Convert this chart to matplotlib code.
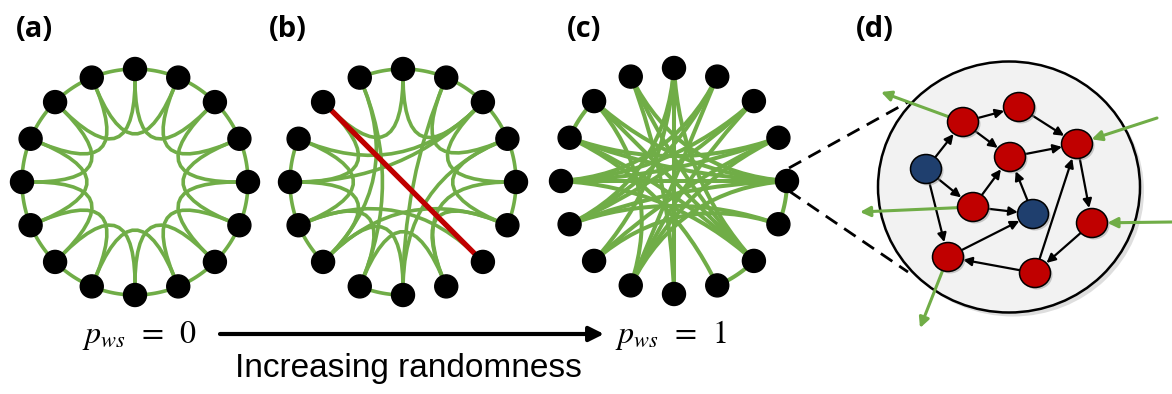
import numpy as np
import matplotlib
matplotlib.use("Agg")
import matplotlib.pyplot as plt
from matplotlib.path import Path
from matplotlib.patches import PathPatch, Circle, Ellipse, FancyArrowPatch

plt.rcParams['mathtext.fontset'] = 'stix'

# ---- data ----
n_nodes = 16
# nodes numbered clockwise from the top node (0)
# (a) ring lattice, k = 4
ring_a = [(0, 1), (1, 2), (2, 3), (3, 4), (4, 5), (5, 6), (6, 7), (7, 8),
          (8, 9), (9, 10), (10, 11), (11, 12), (12, 13), (13, 14), (14, 15), (15, 0)]
chords_a = [(0, 2), (1, 3), (2, 4), (3, 5), (4, 6), (5, 7), (6, 8), (7, 9),
            (8, 10), (9, 11), (10, 12), (11, 13), (12, 14), (13, 15), (14, 0), (15, 1)]
# (b) a few edges rewired
ring_b = [(15, 0), (0, 1), (1, 2), (2, 3), (3, 4), (4, 5), (8, 9), (10, 11), (11, 12), (12, 13)]
chords_b = [(0, 2), (0, 14), (1, 3), (2, 4), (3, 5), (5, 7), (7, 9), (8, 10), (9, 11),
            (10, 12), (11, 13), (12, 14), (15, 9), (1, 8), (2, 13), (2, 12), (11, 6),
            (3, 8), (4, 7), (15, 10), (5, 10)]
rewired_b = [(14, 6)]
# (c) fully random
ring_c = [(13, 14), (4, 5), (6, 7)]
chords_c = [(0, 8), (0, 10), (0, 6), (0, 11), (15, 8), (15, 6), (15, 4), (1, 9), (1, 11),
            (1, 12), (14, 6), (14, 4), (14, 9), (2, 11), (2, 12), (2, 9), (3, 13), (3, 12),
            (3, 10), (3, 9), (4, 12), (4, 11), (4, 13), (4, 9), (13, 6), (13, 7), (11, 5),
            (12, 6), (10, 5)]

# (d) zoomed-in node: internal neurons
d_names = ['n1', 'n2', 'n3', 'n4', 'n5', 'n6', 'n7', 'n8', 'n9', 'n10']
d_kind = ['exc', 'exc', 'exc', 'exc', 'inh', 'exc', 'inh', 'exc', 'exc', 'exc']
d_links = [('n1', 'n2'), ('n2', 'n3'), ('n1', 'n4'), ('n4', 'n3'), ('n5', 'n1'),
           ('n5', 'n6'), ('n5', 'n9'), ('n6', 'n4'), ('n6', 'n7'), ('n7', 'n4'),
           ('n3', 'n8'), ('n8', 'n10'), ('n10', 'n3'), ('n10', 'n9'), ('n9', 'n7')]
d_out = ['n1', 'n6', 'n9']   # green arrows leaving the node
d_in = ['n3', 'n8']          # green arrows entering the node

labels = ['(a)', '(b)', '(c)', '(d)']

# ---- layout / style ----
GREEN = '#70AD47'
RED = '#C00000'
ERED = '#C00000'
BLUE = '#1F3F6E'
R = 113
centers = [(135, 182), (403, 182), (674, 181)]
bend = [-0.08, -0.05, 0.15]   # where the control point sits (0 = ring centre)
node_r = 11.5
lw_green = [2.6, 2.6, 2.9]

d_xy = {'n1': (963, 122), 'n2': (1019, 107), 'n3': (1077, 144), 'n4': (1010, 157),
        'n5': (926, 169), 'n6': (973, 207), 'n7': (1033, 214), 'n8': (1092, 223),
        'n9': (948, 257), 'n10': (1035, 273)}
d_out_end = {'n1': (881, 92), 'n6': (860, 212), 'n9': (920, 328)}
d_in_start = {'n3': (1157, 118), 'n8': (1172, 222)}

fig = plt.figure(figsize=(11.72, 3.94), dpi=100)
ax = fig.add_axes([0, 0, 1, 1])
ax.set_xlim(0, 1172)
ax.set_ylim(394, 0)
ax.axis('off')


def node_pos(c, k):
    a = 2 * np.pi * k / n_nodes
    return np.array([c[0] + R * np.sin(a), c[1] - R * np.cos(a)])


def draw_arc(c, i, j, lw, color=GREEN):
    if j < i:
        j += n_nodes
    t = np.linspace(i, j, 30) * 2 * np.pi / n_nodes
    ax.plot(c[0] + R * np.sin(t), c[1] - R * np.cos(t), color=color, lw=lw,
            solid_capstyle='round', zorder=2)


def draw_curve(c, i, j, f, lw, color=GREEN):
    p0, p2 = node_pos(c, i), node_pos(c, j)
    cc = np.array(c, dtype=float)
    ctrl = cc + f * ((p0 + p2) / 2 - cc)
    path = Path([p0, ctrl, p2], [Path.MOVETO, Path.CURVE3, Path.CURVE3])
    ax.add_patch(PathPatch(path, fc='none', ec=color, lw=lw, capstyle='round', zorder=2))


def draw_nodes(c):
    for k in range(n_nodes):
        ax.add_patch(Circle(node_pos(c, k), node_r, color='black', zorder=5))


graphs = [(ring_a, chords_a), (ring_b, chords_b), (ring_c, chords_c)]
for c, f, lw, (ring, chords) in zip(centers, bend, lw_green, graphs):
    for i, j in ring:
        draw_arc(c, i, j, lw)
    for i, j in chords:
        draw_curve(c, i, j, f, lw)
    draw_nodes(c)

for i, j in rewired_b:
    p0, p1 = node_pos(centers[1], i), node_pos(centers[1], j)
    ax.plot([p0[0], p1[0]], [p0[1], p1[1]], color=RED, lw=3.8, zorder=3)

# panel labels
for lab, x in zip(labels, [16, 269, 567, 856]):
    ax.text(x, 29, lab, fontsize=21, fontweight='bold', family=['Open Sans', 'DejaVu Sans'],
            ha='left', va='center')

# bottom: p_ws arrow
ax.text(82, 335, r'$p_{ws}\ \,=\ \,0$', fontsize=23, ha='left', va='center')
ax.text(615, 335, r'$p_{ws}\ \,=\ \,1$', fontsize=23, ha='left', va='center')
ax.annotate('', xy=(604, 334), xytext=(220, 334),
            arrowprops=dict(arrowstyle='-|>', lw=3.0, color='black', mutation_scale=22,
                            shrinkA=0, shrinkB=0))
ax.text(408, 377, 'Increasing randomness', fontsize=24, ha='center', va='baseline',
        family=['Liberation Sans', 'DejaVu Sans'])

# (d) zoom circle
ax.add_patch(Ellipse((1013, 191), 262, 251, fc='#C8C8C8', ec='none', alpha=0.6, zorder=0))
ax.add_patch(Ellipse((1009, 187), 262, 251, fc='#F2F2F2', ec='black', lw=1.8, zorder=1))

hub = node_pos(centers[2], 4)
for y0, tip in [(hub[1] - 13, (908, 102)), (hub[1] + 10, (908, 272))]:
    ax.plot([hub[0] + 2, tip[0]], [y0, tip[1]], color='black', lw=2.0,
            dashes=(5, 3), zorder=4)

for a, b in d_links:
    ax.add_patch(FancyArrowPatch(d_xy[a], d_xy[b], arrowstyle='-|>', mutation_scale=13,
                                 lw=1.6, color='black', shrinkA=11, shrinkB=11, zorder=6))
for a in d_out:
    ax.add_patch(FancyArrowPatch(d_xy[a], d_out_end[a], arrowstyle='-|>', mutation_scale=15,
                                 lw=2.2, color=GREEN, shrinkA=9, shrinkB=0, zorder=6))
for a in d_in:
    ax.add_patch(FancyArrowPatch(d_in_start[a], d_xy[a], arrowstyle='-|>', mutation_scale=15,
                                 lw=2.2, color=GREEN, shrinkA=0, shrinkB=11, zorder=6))
for name, kind in zip(d_names, d_kind):
    fc = BLUE if kind == 'inh' else ERED
    x, y = d_xy[name]
    ax.add_patch(Ellipse((x + 2, y + 2), 31, 29, fc='#999999', ec='none', alpha=0.5, zorder=7))
    ax.add_patch(Ellipse((x, y), 31, 29, fc=fc, ec='black', lw=1.1, zorder=7))

fig.savefig('out.png', dpi=100)
